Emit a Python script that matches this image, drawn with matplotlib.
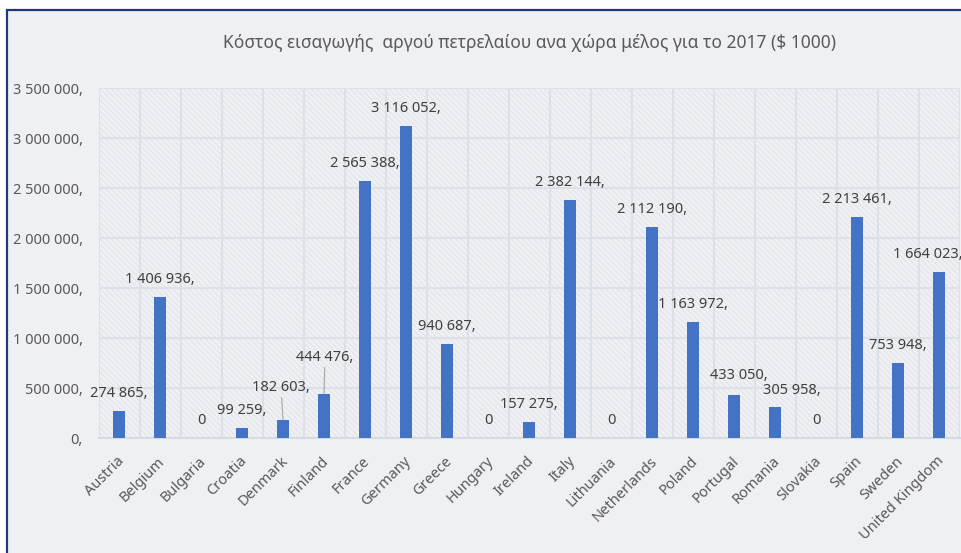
import numpy as np
import matplotlib
matplotlib.use("Agg")
import matplotlib.pyplot as plt
from matplotlib.patches import Rectangle
import matplotlib.transforms as mtransforms

plt.rcParams['font.family'] = ['Noto Sans', 'DejaVu Sans']
plt.rcParams['hatch.linewidth'] = 0.7

# crude oil import cost per member state, 2017 ($ 1000)
countries = ['Austria', 'Belgium', 'Bulgaria', 'Croatia', 'Denmark', 'Finland',
             'France', 'Germany', 'Greece', 'Hungary', 'Ireland', 'Italy',
             'Lithuania', 'Netherlands', 'Poland', 'Portugal', 'Romania',
             'Slovakia', 'Spain', 'Sweden', 'United Kingdom']
costs = [274865, 1406936, 0, 99259, 182603, 444476,
         2565388, 3116052, 940687, 0, 157275, 2382144,
         0, 2112190, 1163972, 433050, 305958,
         0, 2213461, 753948, 1664023]
y_ticks = [0, 500000, 1000000, 1500000, 2000000, 2500000, 3000000, 3500000]

title = "Κόστος εισαγωγής  αργού πετρελαίου ανα χώρα μέλος για το 2017 ($ 1000)"

BG = '#eff0f3'
BAR = '#4472c4'
GRID = '#dde1e6'
TXT = '#595959'
LBL = '#404040'

# hand-placed labels (pixel nudges relative to the default spot above the bar)
nudge = {'Denmark': (-2, 15), 'Finland': (1, 19), 'Portugal': (5, 2),
         'Romania': (17, -1), 'United Kingdom': (-11, 0)}
leader = {'Denmark', 'Finland'}


def fmt_label(v):
    if v == 0:
        return "0"
    return f"{v:,}".replace(",", " ") + ","


def fmt_tick(v):
    return f"{v:,}".replace(",", " ") + ","


fig = plt.figure(figsize=(9.62, 5.53), dpi=100, facecolor='white')
W, H = 962, 553

# chart area with its dark frame
fig.add_artist(Rectangle((7 / W, -0.1), 1.2, 1 - 10 / H + 0.1,
                         transform=fig.transFigure, facecolor=BG,
                         edgecolor='#1f3a73', linewidth=1.6, zorder=0))

ax = fig.add_axes([98.5 / W, 115 / H, 861 / W, 350 / H])
ax.set_facecolor(BG)
ax.add_patch(Rectangle((0, 0), 1, 1, transform=ax.transAxes, facecolor='none',
                       edgecolor='#e0e3e7', hatch='\\\\\\\\\\\\', linewidth=0, zorder=0))

x = np.arange(len(countries))
ax.bar(x, costs, width=0.27, color=BAR, zorder=3)

ax.set_xlim(-0.5, len(countries) - 0.5)
ax.set_ylim(0, 3500000)
ax.set_yticks(y_ticks)
ax.set_yticklabels([fmt_tick(v) for v in y_ticks])
ax.set_xticks(x)
ax.set_xticklabels([])
ax.set_xticks(np.arange(len(countries) + 1) - 0.5, minor=True)
ax.tick_params(which='both', length=0)
ax.tick_params(axis='y', pad=11.5, labelsize=10.5, labelcolor=TXT)

ax.grid(which='minor', axis='x', color=GRID, linewidth=1.5, zorder=1)
ax.grid(which='major', axis='y', color=GRID, linewidth=1.5, zorder=1)
ax.grid(which='major', axis='x', visible=False)
for s in ['top', 'right', 'left']:
    ax.spines[s].set_visible(False)
ax.spines['bottom'].set_color('#d6dbe0')
ax.spines['bottom'].set_linewidth(1.5)

# rotated category names
shift = mtransforms.ScaledTranslation(3 / 100, -21 / 100, fig.dpi_scale_trans)
for i, name in enumerate(countries):
    ax.text(i, 0, name, transform=ax.get_xaxis_transform() + shift,
            rotation=45, rotation_mode='anchor', ha='right', va='center',
            fontsize=10.5, color=TXT)

# value labels
for i, (name, v) in enumerate(zip(countries, costs)):
    dx, dy = nudge.get(name, (0, 0))
    props = None
    if name in leader:
        props = dict(arrowstyle='-', color='#a6a6a6', lw=0.8,
                     shrinkA=0, shrinkB=0)
    ax.annotate(fmt_label(v), xy=(i, v), xytext=(dx * 0.72, (17.5 + dy) * 0.72),
                textcoords='offset points', ha='center', va='center',
                fontsize=10.5, color=LBL, arrowprops=props,
                annotation_clip=False, zorder=4)

fig.text(530 / W, 1 - 43 / H, title, ha='center', va='center',
         fontsize=12.5, color=TXT)

fig.savefig('out.png', dpi=100, facecolor=fig.get_facecolor())
